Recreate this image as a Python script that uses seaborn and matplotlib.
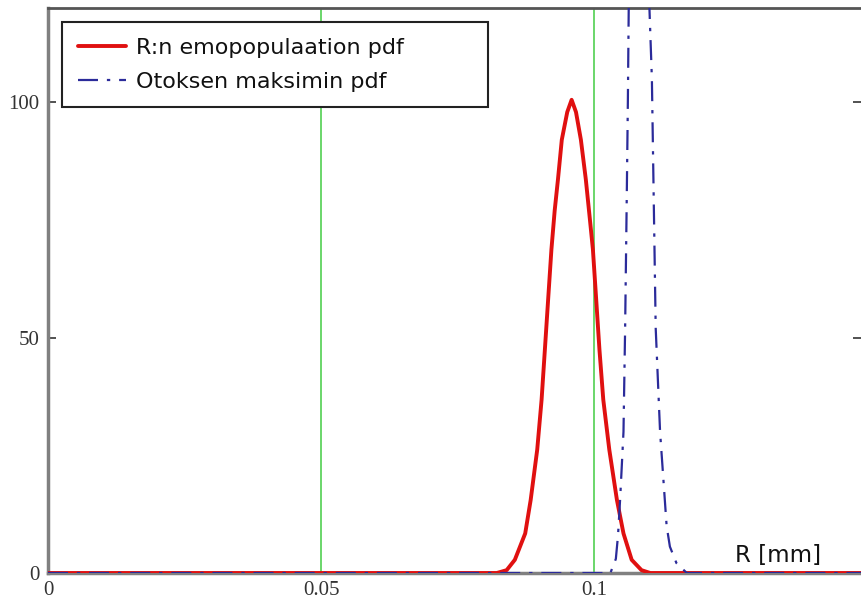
import numpy as np
import pandas as pd
import seaborn as sns
import matplotlib.pyplot as plt

# values
red_x = [0.0, 0.0822, 0.0840, 0.0855, 0.0874, 0.0884, 0.0896, 0.0904, 0.0910,
         0.0916, 0.0922, 0.0928, 0.0934, 0.0941, 0.0951, 0.0959, 0.0967, 0.0976,
         0.0985, 0.0993, 0.0998, 0.1004, 0.1010, 0.1017, 0.1028, 0.1042, 0.1054,
         0.1069, 0.1087, 0.1103, 0.1490]
red_y = [0.0, 0.0, 0.6, 2.8, 8.4, 15.5, 26.2, 36.8, 47.4,
         58.1, 68.7, 77.0, 83.6, 92.0, 97.9, 100.5, 97.9, 92.0,
         83.6, 74.5, 68.7, 58.1, 47.4, 36.8, 26.2, 15.5, 8.4,
         2.8, 0.6, 0.0, 0.0]

blue_x = [0.0, 0.1030, 0.1040, 0.1044, 0.1048, 0.1054, 0.1057, 0.1060, 0.1062,
          0.1064, 0.1080, 0.1100, 0.1106, 0.1113, 0.1121, 0.1127, 0.1133, 0.1139,
          0.1151, 0.1170, 0.1490]
blue_y = [0.0, 0.0, 3.0, 8.0, 16.0, 30.0, 52.0, 80.0, 100.0,
          125.0, 200.0, 125.0, 105.0, 52.0, 30.0, 20.0, 10.0, 5.6,
          2.1, 0.0, 0.0]

x_ticks = [0, 0.05, 0.1]
x_labels = ["0", "0.05", "0.1"]
y_ticks = [0, 50, 100]
y_labels = ["0", "50", "100"]

red_label = "R:n emopopulaation pdf"
blue_label = "Otoksen maksimin pdf"

sns.set_theme(style="white")
plt.rcParams['font.family'] = ['DejaVu Sans']

fig = plt.figure(figsize=(8.61, 6.05), dpi=100)
ax = fig.add_axes([48 / 861, 32 / 605, 813 / 861, 565 / 605])

red_df = pd.DataFrame({"R": red_x, "pdf": red_y})
blue_df = pd.DataFrame({"R": blue_x, "pdf": blue_y})

sns.lineplot(data=red_df, x="R", y="pdf", ax=ax, color="#e01010", lw=2.8,
             label=red_label, zorder=3)
sns.lineplot(data=blue_df, x="R", y="pdf", ax=ax, color="#2b2b9a", lw=1.6,
             linestyle=(0, (9, 4, 1.5, 4)), label=blue_label, zorder=4)

ax.set_xlim(0, 0.1489)
ax.set_ylim(0, 120)
ax.set_xlabel("")
ax.set_ylabel("")

ax.set_xticks(x_ticks)
ax.set_xticklabels(x_labels, family="Liberation Serif", fontsize=15, color="#333333")
ax.set_yticks(y_ticks)
ax.set_yticklabels(y_labels, family="Liberation Serif", fontsize=15, color="#333333")
ax.tick_params(axis="x", length=0, pad=6)
ax.tick_params(axis="y", direction="in", length=6, width=1.2, color="#333333",
               right=True, left=True, pad=6)

ax.grid(axis="x", color="#5fd35f", lw=1.3, zorder=1)
ax.grid(axis="y", visible=False)

for side in ["left", "bottom"]:
    ax.spines[side].set_color("#808080")
    ax.spines[side].set_linewidth(2.5)
ax.spines["top"].set_color("#555555")
ax.spines["top"].set_linewidth(2)
ax.spines["right"].set_visible(False)

ax.text((735 - 48) / 813, 0.0195, "R [mm]", transform=ax.transAxes,
        fontsize=16.5, ha="left", va="baseline", color="#111111")

leg = ax.legend(loc="upper left",
                bbox_to_anchor=(14 / 813, 0.5, 426 / 813, (573 - 22) / 565 - 0.5),
                mode="expand", borderaxespad=0,
                fontsize=16, frameon=True, fancybox=False, framealpha=1,
                handlelength=2.2, handletextpad=0.45, borderpad=0.7,
                labelspacing=0.64)
leg.get_frame().set_edgecolor("#222222")
leg.get_frame().set_linewidth(1.5)
for t in leg.get_texts():
    t.set_color("#111111")

plt.savefig("out.png", dpi=100)
plt.close()
